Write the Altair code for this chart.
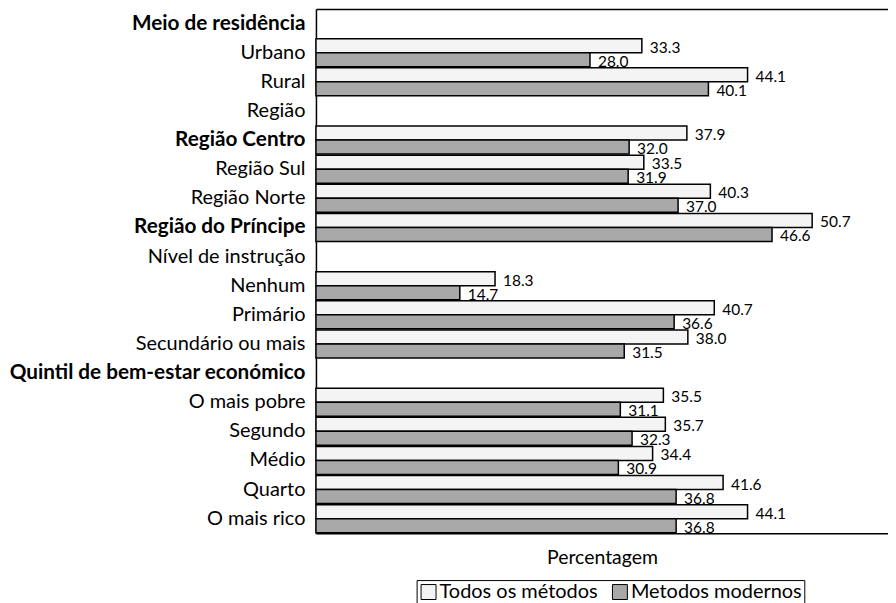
import json
import altair as alt
import pandas as pd

categories = ["Meio de residência", "Urbano", "Rural", "Região", "Região Centro",
              "Região Sul", "Região Norte", "Região do Príncipe", "Nível de instrução",
              "Nenhum", "Primário", "Secundário ou mais", "Quintil de bem-estar económico",
              "O mais pobre", "Segundo", "Médio", "Quarto", "O mais rico"]
bold_labels = ["Meio de residência", "Região Centro", "Região do Príncipe",
               "Quintil de bem-estar económico"]
bar_categories = ["Urbano", "Rural", "Região Centro", "Região Sul", "Região Norte",
                  "Região do Príncipe", "Nenhum", "Primário", "Secundário ou mais",
                  "O mais pobre", "Segundo", "Médio", "Quarto", "O mais rico"]
todos = [33.3, 44.1, 37.9, 33.5, 40.3, 50.7, 18.3, 40.7, 38.0, 35.5, 35.7, 34.4, 41.6, 44.1]
modernos = [28.0, 40.1, 32.0, 31.9, 37.0, 46.6, 14.7, 36.6, 31.5, 31.1, 32.3, 30.9, 36.8, 36.8]
series = ["Todos os métodos", "Metodos modernos"]
colors = ["#f4f4f4", "#a8a8a8"]

rows = []
for c, a, b in zip(bar_categories, todos, modernos):
    rows.append({"categoria": c, "serie": series[0], "valor": a})
    rows.append({"categoria": c, "serie": series[1], "valor": b})
df = pd.DataFrame(rows)

FONT = "Lato"
xscale = alt.Scale(domain=[0, 58.45], nice=False, zero=True)
yscale = alt.Scale(domain=categories, paddingInner=0.04, paddingOuter=0.02)
yoff = alt.YOffset("serie:N", scale=alt.Scale(domain=series, paddingInner=0, paddingOuter=0))

bold_test = "indexof(" + json.dumps(bold_labels, ensure_ascii=False) + ", datum.value) >= 0"

yaxis = alt.Axis(title=None, ticks=False, grid=False, domainColor="black",
                 domainWidth=1.5, labelFont=FONT,
                 labelFontSize={"condition": {"test": bold_test, "value": 20.8},
                                "value": 20},
                 labelColor="black", labelPadding=11, labelLimit=400,
                 minExtent=306, maxExtent=306,
                 labelFontWeight={"condition": {"test": bold_test, "value": "bold"},
                                  "value": "normal"})

base = alt.Chart(df)

bars = base.mark_bar(stroke="black", strokeWidth=1.5).encode(
    x=alt.X("valor:Q", scale=xscale,
            axis=alt.Axis(title="Percentagem", labels=False, ticks=False, grid=False,
                          domainColor="black", domainWidth=1.5, titleFont=FONT,
                          titleFontSize=19.5, titleFontWeight="normal", titleColor="black",
                          titlePadding=15)),
    y=alt.Y("categoria:N", scale=yscale, axis=yaxis),
    yOffset=yoff,
    fill=alt.Fill("serie:N", scale=alt.Scale(domain=series, range=colors),
                  legend=alt.Legend(title=None, orient="none", legendX=101, legendY=573,
                                    direction="horizontal", symbolType="square",
                                    symbolSize=225, symbolStrokeColor="black",
                                    symbolStrokeWidth=1, labelFont=FONT, labelFontSize=20,
                                    labelColor="black", labelOffset=1, columnPadding=12,
                                    labelLimit=400, strokeColor="black", padding=2)),
)

labels = base.mark_text(align="left", baseline="middle", dx=8, dy=2, fontSize=15.5,
                        font=FONT, color="black").encode(
    x=alt.X("valor:Q", scale=xscale,
            axis=alt.Axis(orient="top", title=None, labels=False, ticks=False, grid=False,
                          domainColor="black", domainWidth=1.5, minExtent=0, maxExtent=0)),
    y=alt.Y("categoria:N", scale=yscale, axis=yaxis),
    yOffset=yoff,
    text=alt.Text("valor:Q", format=".1f"),
)

chart = alt.layer(bars, labels).resolve_axis(x="independent").properties(
    width=574, height=526,
    padding={"left": 0, "top": 0, "right": 0, "bottom": 0},
).configure_view(stroke=None).configure(font=FONT)

chart.save("out.html", embed_options={"renderer": "svg", "actions": False})
